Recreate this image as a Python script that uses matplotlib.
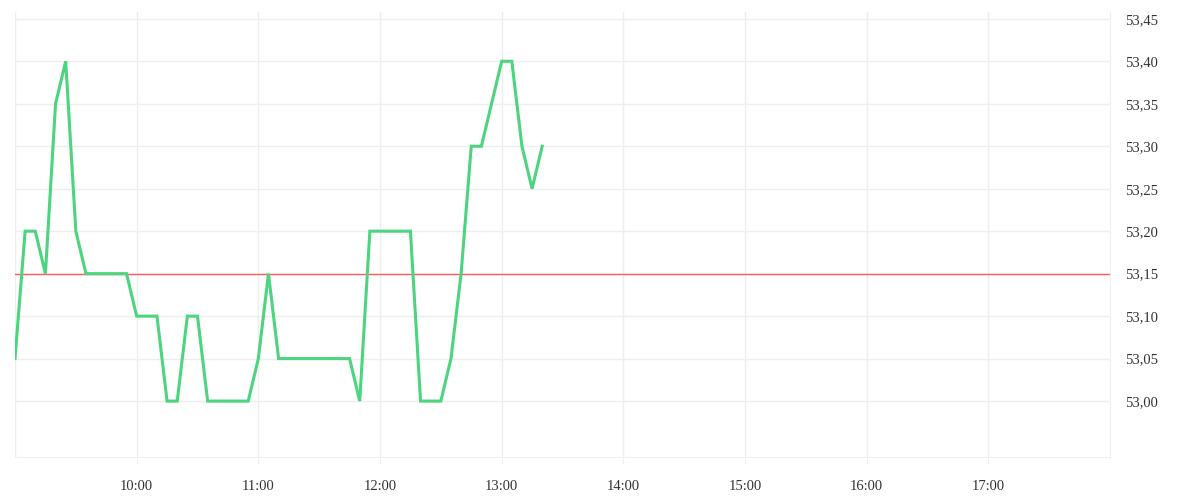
import matplotlib
matplotlib.use("Agg")
import matplotlib.pyplot as plt
import matplotlib.dates as mdates
import pandas as pd

# 5-minute quotes, 09:00 .. 13:20
times = pd.date_range("2024-01-01 09:00", "2024-01-01 13:20", freq="5min")
prices = [
    53.05, 53.20, 53.20, 53.15, 53.35, 53.40, 53.20, 53.15, 53.15, 53.15,  # 09:00-09:45
    53.15, 53.15, 53.10, 53.10, 53.10, 53.00, 53.00, 53.10, 53.10, 53.00,  # 09:50-10:35
    53.00, 53.00, 53.00, 53.00, 53.05, 53.15, 53.05, 53.05, 53.05, 53.05,  # 10:40-11:25
    53.05, 53.05, 53.05, 53.05, 53.00, 53.20, 53.20, 53.20, 53.20, 53.20,  # 11:30-12:15
    53.00, 53.00, 53.00, 53.05, 53.15, 53.30, 53.30, 53.35, 53.40, 53.40,  # 12:20-13:05
    53.30, 53.25, 53.30,                                                   # 13:10-13:20
]
prev_close = 53.15
y_ticks = [53.00, 53.05, 53.10, 53.15, 53.20, 53.25, 53.30, 53.35, 53.40, 53.45]
x_start = pd.Timestamp("2024-01-01 09:00")
x_end = pd.Timestamp("2024-01-01 18:00")
x_ticks = pd.date_range("2024-01-01 10:00", "2024-01-01 17:00", freq="1h")

GRID = "#eeeeee"
plt.rcParams["font.family"] = ["Liberation Serif", "DejaVu Serif"]

fig = plt.figure(figsize=(12, 5), dpi=100)
ax = fig.add_axes([15 / 1200, 42 / 500, 1095 / 1200, 446 / 500])

ax.plot(times, prices, color="#4cd47e", linewidth=2.2, solid_joinstyle="miter", zorder=3)
ax.axhline(prev_close, color="#ff5a5a", linewidth=1, zorder=2)

ax.set_xlim(x_start, x_end)
ax.set_ylim(52.933, 53.458)

ax.yaxis.tick_right()
ax.set_yticks(y_ticks)
ax.set_yticklabels([f"{v:.2f}".replace(".", ",") for v in y_ticks])
ax.set_xticks(list(x_ticks))
ax.xaxis.set_major_formatter(mdates.DateFormatter("%H:%M"))

ax.tick_params(axis="x", length=4, color=GRID, pad=12, labelsize=10.5, labelcolor="#333333")
ax.tick_params(axis="y", length=0, pad=11, labelsize=10.5, labelcolor="#333333")

ax.grid(True, color=GRID, linewidth=1, zorder=0)
# the 09:00 gridline on the left edge and the bottom line
ax.axvline(x_start, color=GRID, linewidth=1, zorder=0)
ax.axhline(52.933, color=GRID, linewidth=1.5, zorder=0)

for side in ["top", "left", "bottom"]:
    ax.spines[side].set_visible(False)
ax.spines["right"].set_color(GRID)

fig.savefig("out.png", dpi=100)
